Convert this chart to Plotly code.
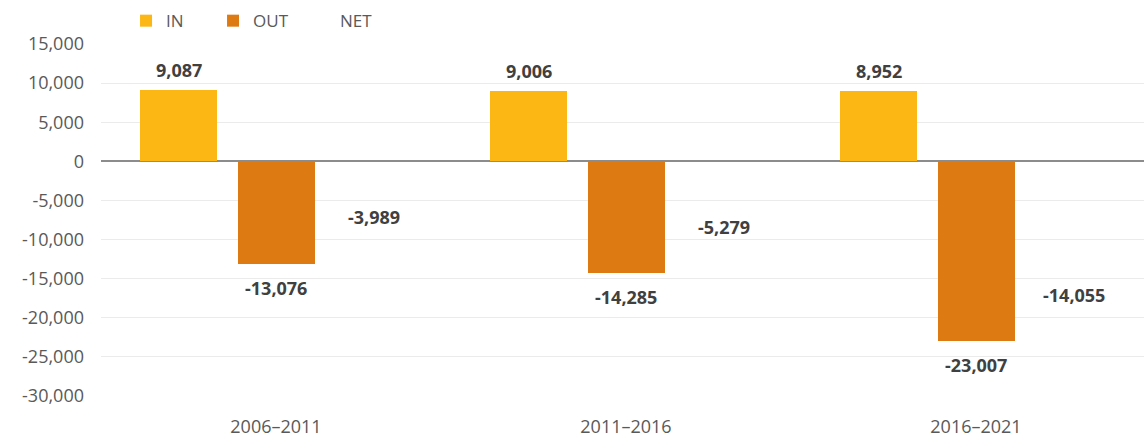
import plotly.graph_objects as go

categories = ["2006–2011", "2011–2016", "2016–2021"]
in_vals = [9087, 9006, 8952]
out_vals = [-13076, -14285, -23007]
net_vals = [-3989, -5279, -14055]
series_names = ["IN", "OUT", "NET"]
y_ticks = [15000, 10000, 5000, 0, -5000, -10000, -15000, -20000, -25000, -30000]

colors = ["#FDB714", "#DE7A12", "rgba(0,0,0,0)"]
offsets = [-0.278, 0.0, 0.28]
bar_w = 0.22
FONT = "Open Sans"

fig = go.Figure()
pos = list(range(len(categories)))
annotations = []
for name, vals, col, off in zip(series_names, [in_vals, out_vals, net_vals], colors, offsets):
    xs = [p + off for p in pos]
    fig.add_trace(go.Bar(
        x=xs, y=vals, name=name, width=bar_w,
        marker=dict(color=col, line=dict(width=0)),
        hoverinfo="skip",
    ))
    for x, v in zip(xs, vals):
        annotations.append(dict(
            x=x, y=v, xref="x", yref="y", text=f"{v:,}", showarrow=False,
            yshift=20 if v > 0 else -24, yanchor="middle", xanchor="center",
            font=dict(family=FONT, size=18, color="#404040", weight="bold"),
        ))

fig.update_layout(
    width=1144, height=438,
    margin=dict(l=101, r=0, t=44, b=40),
    paper_bgcolor="white", plot_bgcolor="white",
    font=dict(family=FONT, size=18, color="#595959"),
    bargap=0, barmode="overlay",
    showlegend=True,
    legend=dict(orientation="h", x=0.024, y=1.065, xanchor="left", yanchor="middle",
                entrywidth=42, itemwidth=30, font=dict(family=FONT, size=17, color="#595959"),
                bgcolor="rgba(0,0,0,0)"),
    annotations=annotations,
    xaxis=dict(range=[-0.5, 2.48], tickvals=pos, ticktext=categories,
               showgrid=False, zeroline=False, showline=False, ticks="",
               ticklabelstandoff=18, fixedrange=True),
    yaxis=dict(range=[-30000, 15000], tickvals=y_ticks,
               ticktext=[f"{t:,}" for t in y_ticks],
               showgrid=True, gridcolor="#EBEBEB", gridwidth=1,
               zeroline=True, zerolinecolor="#8C8C8C", zerolinewidth=1.5,
               showline=False, ticks="", ticklabelstandoff=16, fixedrange=True),
)

fig.write_html("out.html")
